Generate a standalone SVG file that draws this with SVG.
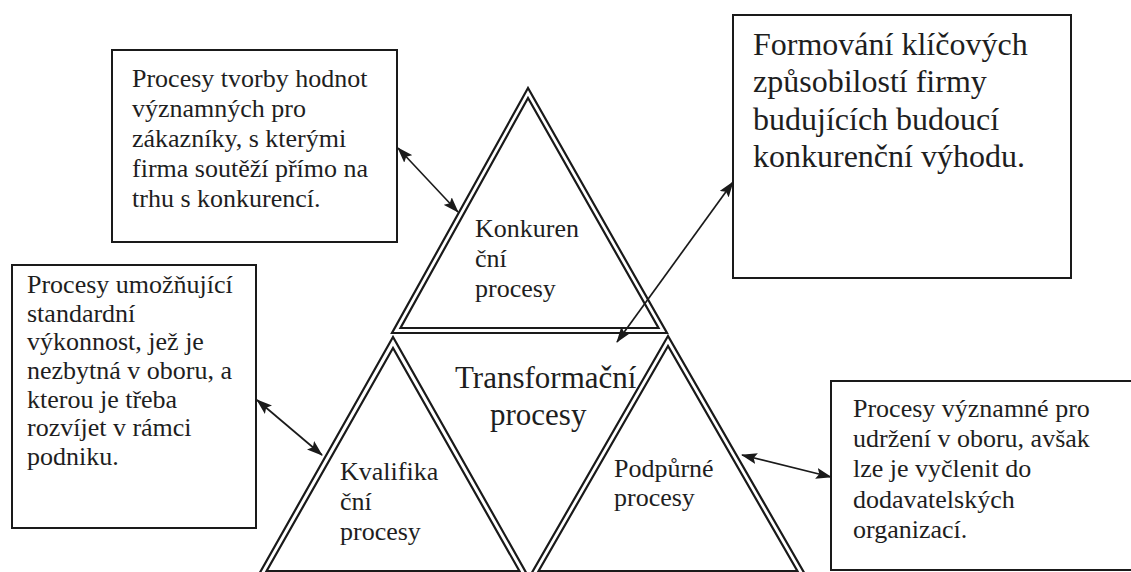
<svg xmlns="http://www.w3.org/2000/svg" width="1131" height="572" viewBox="0 0 1131 572">
  <defs>
    <marker id="head" viewBox="0 0 16 11" refX="15" refY="5.5" markerWidth="16" markerHeight="11" markerUnits="userSpaceOnUse" orient="auto-start-reverse">
      <path d="M0,0 L16,5.5 L0,11 L3,5.5 Z" fill="#1a1a1a"/>
    </marker>
  </defs>
  <style>
    .box { fill: #ffffff; stroke: #1a1a1a; stroke-width: 2; }
    .tri { fill: none; stroke: #1a1a1a; stroke-width: 2.2; stroke-linejoin: miter; }
    .link { fill: none; stroke: #1a1a1a; stroke-width: 1.7; marker-start: url(#head); marker-end: url(#head); }
    text { font-family: "Liberation Serif", "Times New Roman", serif; fill: #1e1e1e; }
    .t26 { font-size: 26px; }
    .t31 { font-size: 31px; }
    .t32 { font-size: 32px; }
  </style>

  <rect width="1131" height="572" fill="#ffffff"/>

  <!-- top triangle: competitive processes -->
  <g id="konkurencni">
    <polygon class="tri" points="528,88 392,333 667,333"/>
    <polygon class="tri" points="528,98 400.5,328 658.5,328"/>
    <text class="t26" x="475" y="237">Konkuren</text>
    <text class="t26" x="475" y="267">ční</text>
    <text class="t26" x="475" y="297">procesy</text>
  </g>

  <!-- bottom-left triangle: qualifying processes -->
  <g id="kvalifikacni">
    <polygon class="tri" points="393,337 258,576 528,576"/>
    <polygon class="tri" points="393,348 266.6,571 519.4,571"/>
    <text class="t26" x="340" y="480">Kvalifika</text>
    <text class="t26" x="340" y="510">ční</text>
    <text class="t26" x="340" y="540">procesy</text>
  </g>

  <!-- bottom-right triangle: supporting processes -->
  <g id="podpurne">
    <polygon class="tri" points="668,336 530,576 806,576"/>
    <polygon class="tri" points="668,346 538.6,571 797.4,571"/>
    <text class="t26" x="614" y="477">Podpůrné</text>
    <text class="t26" x="614" y="506">procesy</text>
  </g>

  <!-- middle (inverted) triangle: transformation processes -->
  <g id="transformacni">
    <text class="t31" x="455" y="388">Transformační</text>
    <text class="t31" x="490" y="425">procesy</text>
  </g>

  <!-- description boxes -->
  <g id="popis-konkurencni">
    <rect class="box" x="112" y="50" width="285" height="192"/>
    <text class="t26" x="132" y="87">Procesy tvorby hodnot</text>
    <text class="t26" x="132" y="117">významných pro</text>
    <text class="t26" x="132" y="147">zákazníky, s kterými</text>
    <text class="t26" x="132" y="177">firma soutěží přímo na</text>
    <text class="t26" x="132" y="207">trhu s konkurencí.</text>
  </g>

  <g id="popis-transformacni">
    <rect class="box" x="733" y="15" width="338" height="263"/>
    <text class="t32" x="753" y="55">Formování klíčových</text>
    <text class="t32" x="753" y="92">způsobilostí firmy</text>
    <text class="t32" x="753" y="130">budujících budoucí</text>
    <text class="t32" x="753" y="167">konkurenční výhodu.</text>
  </g>

  <g id="popis-kvalifikacni">
    <rect class="box" x="12" y="265" width="244" height="263"/>
    <text class="t26" x="27" y="293">Procesy umožňující</text>
    <text class="t26" x="27" y="322">standardní</text>
    <text class="t26" x="27" y="350">výkonnost, jež je</text>
    <text class="t26" x="27" y="379">nezbytná v oboru, a</text>
    <text class="t26" x="27" y="408">kterou je třeba</text>
    <text class="t26" x="27" y="436">rozvíjet v rámci</text>
    <text class="t26" x="27" y="465">podniku.</text>
  </g>

  <g id="popis-podpurne">
    <rect class="box" x="831" y="381" width="320" height="189"/>
    <text class="t26" x="853" y="417">Procesy významné pro</text>
    <text class="t26" x="853" y="447">udržení v oboru, avšak</text>
    <text class="t26" x="853" y="477">lze je vyčlenit do</text>
    <text class="t26" x="853" y="508">dodavatelských</text>
    <text class="t26" x="853" y="538">organizací.</text>
  </g>

  <!-- connectors -->
  <g id="connectors">
    <line class="link" x1="398" y1="148" x2="458" y2="212"/>
    <line class="link" x1="617" y1="342" x2="733" y2="182"/>
    <line class="link" x1="257" y1="400" x2="322" y2="455"/>
    <line class="link" x1="742" y1="455" x2="831" y2="477"/>
  </g>
</svg>
